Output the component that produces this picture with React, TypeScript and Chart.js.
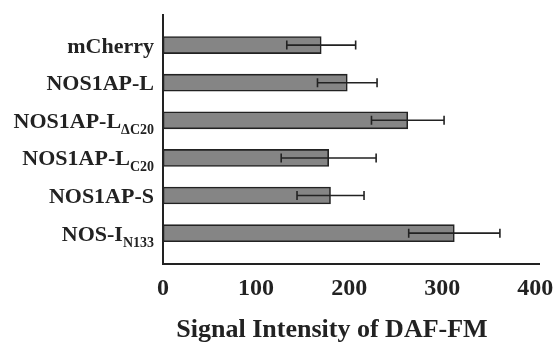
import React, { useEffect, useRef } from "react";
import { Chart, registerables } from "chart.js";

Chart.register(...registerables);

const categories = ["mCherry", "NOS1AP-L", "NOS1AP-L", "NOS1AP-L", "NOS1AP-S", "NOS-I"];
const subscripts = ["", "", "ΔC20", "C20", "", "N133"];
const means = [170, 198, 263, 178, 180, 313];
const errors = [37, 32, 39, 51, 36, 49];
const xTicks = [0, 100, 200, 300, 400];
const axisTitle = "Signal Intensity of DAF-FM";

const FONT = "'Liberation Serif', 'Times New Roman', serif";
const INK = "#222222";

const labelsPlugin = {
  id: "customLabels",
  afterDraw(chart: any) {
    const ctx = chart.ctx;
    const y = chart.scales.y;
    ctx.save();
    ctx.fillStyle = INK;
    ctx.textBaseline = "alphabetic";
    categories.forEach((cat, i) => {
      const cy = y.getPixelForValue(i);
      const base = cy + 7.5;
      const right = 154;
      let subW = 0;
      if (subscripts[i]) {
        ctx.font = `bold 14px ${FONT}`;
        ctx.textAlign = "right";
        subW = ctx.measureText(subscripts[i]).width;
        ctx.fillText(subscripts[i], right, base + 6);
      }
      ctx.font = `bold 22px ${FONT}`;
      ctx.textAlign = "right";
      ctx.fillText(cat, right - subW, base);
    });
    ctx.font = `bold 26px ${FONT}`;
    ctx.textAlign = "center";
    ctx.fillText(axisTitle, 332, 337);
    ctx.restore();
  },
};

const errorBarPlugin = {
  id: "errorBars",
  afterDatasetsDraw(chart: any) {
    const ctx = chart.ctx;
    const x = chart.scales.x;
    const y = chart.scales.y;
    ctx.save();
    ctx.strokeStyle = INK;
    ctx.lineWidth = 1.6;
    means.forEach((m, i) => {
      const cy = y.getPixelForValue(i);
      const x0 = x.getPixelForValue(m - errors[i]);
      const x1 = x.getPixelForValue(m + errors[i]);
      ctx.beginPath();
      ctx.moveTo(x0, cy);
      ctx.lineTo(x1, cy);
      ctx.moveTo(x0, cy - 4.5);
      ctx.lineTo(x0, cy + 4.5);
      ctx.moveTo(x1, cy - 4.5);
      ctx.lineTo(x1, cy + 4.5);
      ctx.stroke();
    });
    ctx.restore();
  },
};

export default function App() {
  const ref = useRef<HTMLCanvasElement | null>(null);
  useEffect(() => {
    if (!ref.current) return;
    const chart = new Chart(ref.current, {
      type: "bar",
      data: {
        datasets: [
          {
            data: means.map((m, i) => ({ x: m, y: i })),
            backgroundColor: "#858585",
            borderColor: INK,
            borderWidth: 1.6,
            borderSkipped: false,
            barThickness: 17,
          },
        ],
      },
      options: {
        indexAxis: "y",
        animation: false,
        responsive: false,
        layout: { padding: { top: 15, right: 15, left: 0, bottom: 0 } },
        plugins: { legend: { display: false }, tooltip: { enabled: false } },
        scales: {
          x: {
            type: "linear",
            min: 0,
            max: 404,
            afterBuildTicks: (s: any) => {
              s.ticks = xTicks.map((v) => ({ value: v }));
            },
            afterFit: (s: any) => {
              s.height = 80;
              s.paddingRight = 0;
              s.paddingLeft = 0;
            },
            grid: { display: false, drawTicks: false },
            border: { display: true, color: INK, width: 2 },
            ticks: {
              padding: 10,
              color: INK,
              font: { family: FONT, weight: "bold", size: 24 },
            },
          },
          y: {
            type: "linear",
            min: -0.8,
            max: 5.82,
            reverse: true,
            offset: false,
            afterFit: (s: any) => {
              s.width = 163;
              s.paddingTop = 0;
              s.paddingBottom = 0;
            },
            grid: { display: false, drawTicks: false, offset: false },
            border: { display: true, color: INK, width: 2 },
            ticks: { display: false },
          },
        },
      } as any,
      plugins: [errorBarPlugin, labelsPlugin],
    });
    return () => chart.destroy();
  }, []);
  return (
    <div style={{ position: "fixed", left: 0, top: 0, width: 554, height: 344, background: "#fff" }}>
      <canvas ref={ref} width={554} height={344} />
    </div>
  );
}
